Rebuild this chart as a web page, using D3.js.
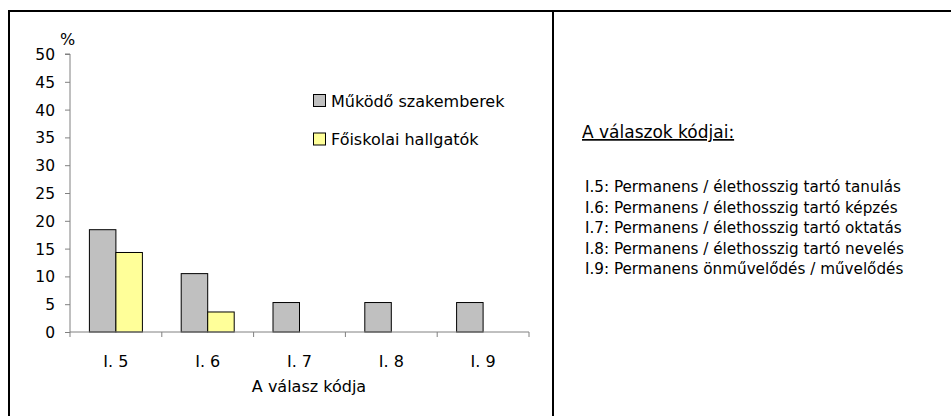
<!DOCTYPE html>
<html><head><meta charset="utf-8">
<script src="https://cdn.jsdelivr.net/npm/d3@7"></script>
<style>
body{margin:0;background:#fff;}
svg{display:block;}
text{font-family:"DejaVu Sans",sans-serif;fill:#000;}
</style></head>
<body>
<script>
const categories = ["I. 5","I. 6","I. 7","I. 8","I. 9"];
const seriesNames = ["Működő szakemberek","Főiskolai hallgatók"];
const seriesColors = ["#c0c0c0","#ffff99"];
const working = [18.4, 10.5, 5.3, 5.3, 5.3];
const students = [14.3, 3.6, 0, 0, 0];
const yTicks = [0,5,10,15,20,25,30,35,40,45,50];
const codeTitle = "A válaszok kódjai:";
const codeLines = [
 "I.5: Permanens / élethosszig tartó tanulás",
 "I.6: Permanens / élethosszig tartó képzés",
 "I.7: Permanens / élethosszig tartó oktatás",
 "I.8: Permanens / élethosszig tartó nevelés",
 "I.9: Permanens önművelődés / művelődés"
];

const W=951,H=416;
const svg=d3.select("body").append("svg").attr("width",W).attr("height",H);

// frame
svg.append("line").attr("x1",8).attr("x2",W).attr("y1",11).attr("y2",11).attr("stroke","#000").attr("stroke-width",2);
svg.append("line").attr("x1",9).attr("x2",9).attr("y1",10).attr("y2",H).attr("stroke","#000").attr("stroke-width",2);
svg.append("line").attr("x1",553).attr("x2",553).attr("y1",10).attr("y2",H).attr("stroke","#000").attr("stroke-width",2);

const x0=70,x1=529,yB=332,yT=54;
const x=d3.scaleBand().domain(categories).range([x0,x1]).paddingInner(0).paddingOuter(0);
const y=d3.scaleLinear().domain([0,50]).range([yB,yT]);
const inner=d3.scaleBand().domain([0,1]).range([0,53]);
const groupOffset=(x.bandwidth()-53)/2;

const data=[working,students];
data.forEach((vals,si)=>{
  svg.append("g").selectAll("rect").data(vals.map((v,i)=>({v,c:categories[i]})).filter(d=>d.v>0))
    .join("rect")
    .attr("x",d=>x(d.c)+groupOffset+inner(si))
    .attr("width",inner.bandwidth())
    .attr("y",d=>y(d.v))
    .attr("height",d=>y(0)-y(d.v))
    .attr("fill",seriesColors[si])
    .attr("stroke","#000").attr("stroke-width",1);
});

// y axis
const ya=svg.append("g").attr("transform",`translate(${x0},0)`)
  .call(d3.axisLeft(y).tickValues(yTicks).tickSize(5).tickPadding(10).tickFormat(d3.format("d")));
ya.select(".domain").attr("stroke","#808080").attr("d",`M-5,${yT}H0V${yB}`);
ya.selectAll(".tick line").attr("stroke","#808080");
ya.selectAll("text").style("font-size","15.5px").attr("dy","0.36em");

// x axis
const xa=svg.append("g").attr("transform",`translate(0,${yB})`)
  .call(d3.axisBottom(x).tickSize(0).tickPadding(27));
xa.select(".domain").attr("stroke","#808080").attr("d",`M${x0},0H${x1}`);
xa.selectAll("text").style("font-size","16px").attr("dy","0.5em");
const bounds=categories.map(c=>x(c)).concat([x1]);
xa.append("g").selectAll("line").data(bounds).join("line")
  .attr("x1",d=>d).attr("x2",d=>d).attr("y1",0).attr("y2",5).attr("stroke","#808080");

svg.append("text").attr("x",60).attr("y",45).style("font-size","16px").text("%");
svg.append("text").attr("x",309).attr("y",392).attr("text-anchor","middle").style("font-size","16px").text("A válasz kódja");

// legend
const lg=svg.append("g");
seriesNames.forEach((n,i)=>{
  const yy=94+i*38.5;
  lg.append("rect").attr("x",313.5).attr("y",yy+0.5).attr("width",12).attr("height",12)
    .attr("fill",seriesColors[i]).attr("stroke","#000");
  lg.append("text").attr("x",331).attr("y",yy+12.5).style("font-size","16px").text(n);
});

// right panel
svg.append("text").attr("x",582).attr("y",138).style("font-size","17px")
  .attr("text-decoration","underline").text(codeTitle);
svg.append("g").selectAll("text").data(codeLines).join("text")
  .attr("x",585).attr("y",(d,i)=>192+i*20.5).style("font-size","15.2px").text(d=>d);
</script>
</body></html>
